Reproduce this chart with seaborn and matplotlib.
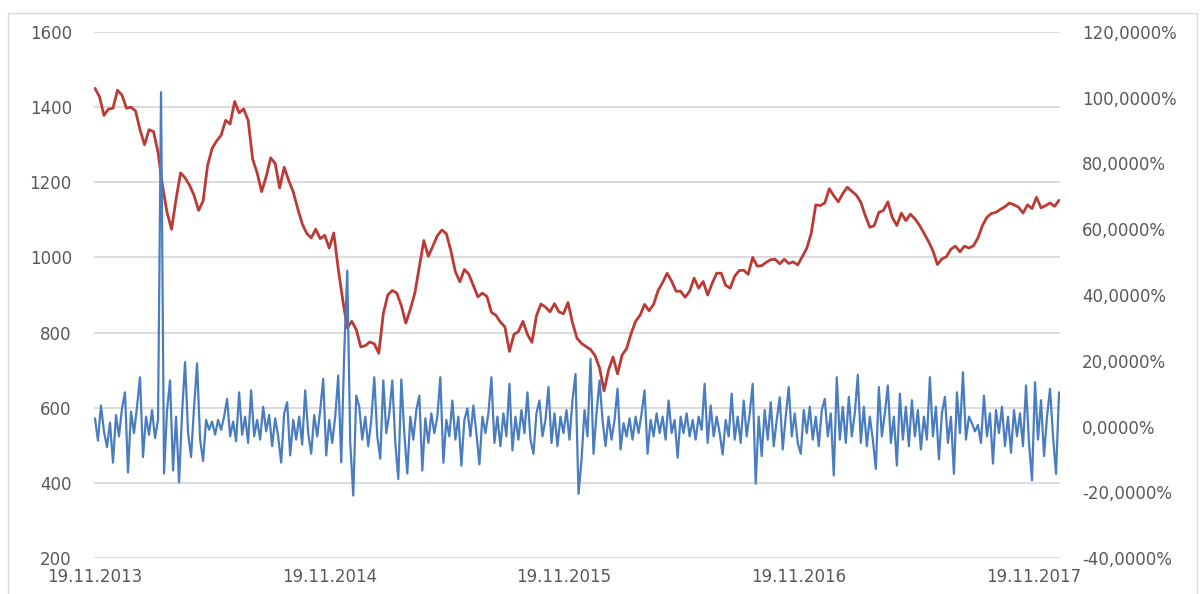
import matplotlib
matplotlib.use("Agg")
import matplotlib.pyplot as plt
import matplotlib.dates as mdates
from matplotlib.ticker import FixedLocator, FuncFormatter
from matplotlib.patches import Rectangle
import pandas as pd
import seaborn as sns

# Observation window
start_date = "2013-11-19"
end_date = "2017-12-29"

# Weekly closing price (left axis)
price = [
    1450, 1428, 1378, 1395, 1397, 1445, 1432, 1397, 1400, 1390,
    1340, 1300, 1340, 1335, 1280, 1190, 1120, 1075, 1155, 1225,
    1212, 1192, 1165, 1125, 1150, 1245, 1290, 1310, 1325, 1365,
    1355, 1415, 1385, 1395, 1365, 1262, 1225, 1175, 1215, 1265,
    1250, 1185, 1240, 1205, 1175, 1130, 1090, 1064, 1052, 1075,
    1050, 1059, 1025, 1065, 970, 887, 812, 830, 808, 762,
    765, 775, 770, 745, 850, 900, 912, 905, 872, 825,
    862, 905, 975, 1045, 1003, 1030, 1058, 1073, 1063, 1018,
    962, 935, 968, 955, 925, 895, 905, 896, 854, 846,
    828, 815, 750, 795, 803, 830, 795, 774, 845, 876,
    868, 855, 877, 855, 850, 880, 826, 785, 771, 763,
    755, 739, 706, 645, 700, 735, 690, 740, 757, 797,
    830, 846, 875, 858, 875, 912, 933, 958, 937, 910,
    910, 894, 910, 945, 918, 936, 900, 931, 958, 958,
    926, 918, 950, 965, 966, 955, 1000, 977, 978, 987,
    994, 995, 983, 995, 984, 988, 980, 1002, 1024, 1065,
    1140, 1138, 1145, 1183, 1164, 1148, 1170, 1187, 1176, 1166,
    1147, 1111, 1080, 1085, 1120, 1125, 1148, 1106, 1085, 1118,
    1098, 1115, 1103, 1086, 1065, 1043, 1018, 981, 996, 1002,
    1022, 1030, 1015, 1030, 1025, 1031, 1052, 1085, 1107, 1117,
    1120, 1128, 1135, 1145, 1140, 1134, 1118, 1140, 1130, 1160,
    1132, 1138, 1145, 1136, 1152,
]

# Period returns in percent (right axis)
returns_pct = [
    2.5, -4.3, 6.4, -1.5, -6.3, 1.2, -11, 3.5, -3, 5.5,
    10.4, -14, 4.5, -2, 6, 15, -9.3, 3, -2.5, 5,
    -3.5, 2, 101.7, -14.3, 5, 14, -13.4, 3, -17, 4,
    19.6, -2, -9.3, 6, 19.2, -4, -10.5, 2, -1, 1.5,
    -2.5, 2, -1, 3, 8.4, -3, 1.5, -4.5, 10.4, -2.5,
    3, -5, 11, -3, 2, -4, 6, -1.5, 3.5, -6,
    2.5, -3, -11, 4, 7.4, -8.8, 2, -4, 3, -5.5,
    11, -2, -8.3, 3.5, -3, 5, 14.5, -8.8, 2, -5,
    3, 15.5, -10.9, 22.6, 47.4, -5, -21, 9.4, 6, -4,
    3, -6, 2, 15, -3, -9.8, 14, -2, 4, 14,
    -5, -16, 14.3, -2, -14.3, 3, -4, 5, 9.4, -13.4,
    2.5, -5, 4, -2, 3, 15, -11, 2, -3, 7.9,
    -4, 3, -11.9, 2, 5.5, -3, 6.4, -2, -11.5, 3,
    -2, 4, 15, -5, 3, -6, 4, -3, 13, -7.3,
    3, -4, 5, -2, 10.4, -4, -8.3, 4, 7.9, -3,
    2, 12, -5, 4, -6, 3, -2, 5, -4, 8,
    16, -20.5, -10.3, 5, -3, 20.6, -8.3, 4, 14, 2,
    -6, 3, -4, 2, 11.5, -7, 1, -3, 2.5, -4,
    3, -2, 4, 11, -8.3, 2, -3, 4, -2, 3,
    -4, 7.9, -2, 2, -9.5, 3, -2, 4, -3, 2,
    -4, 3, -1, 13, -5, 6.4, -3, 3, -2, -8.5,
    2, -3, 10, -4, 3, -5, 7.9, -3, 4, 13,
    -17.4, 3, -9, 5, -4, 7.4, -6, 2, 8.9, -7,
    3, 12, -3, 4, -5, -8.3, 5, -2, 6, -4,
    3, -6, 5, 8.4, -3, 4, -14.9, 15, -4, 6,
    -5, 9, -3, 4, 15.7, -5, 6, -6, 3, -4,
    -12.9, 12, -3, 4, 12.5, -5, 3, -11.9, 10, -4,
    6, -6, 8, -3, 5, -7, 3, -4, 15, -3,
    6, -10, 4, 9, -5, 3, -14.4, 10.4, -2, 16.5,
    -4, 3, 1, -1.5, 0.5, -5, 9.4, -3, 4, -11.3,
    5, -2, 6, -6, 3, -8, 5, -3, 4, -6,
    12.5, -5, -16.4, 13.5, -4, 8, -9, 3, 11.5, -3,
    -14.4, 10.4,
]

tick_dates = ["2013-11-19", "2014-11-19", "2015-11-19", "2016-11-19", "2017-11-19"]
price_ticks = [200, 400, 600, 800, 1000, 1200, 1400, 1600]
return_ticks = [-40, -20, 0, 20, 40, 60, 80, 100, 120]

price_df = pd.DataFrame({
    "date": pd.date_range(start_date, end_date, periods=len(price)),
    "price": price,
})
returns_df = pd.DataFrame({
    "date": pd.date_range(start_date, end_date, periods=len(returns_pct)),
    "ret": returns_pct,
})

sns.set_theme(style="white")
plt.rcParams["font.family"] = ["DejaVu Sans"]

TEXT = "#595959"
GRID = "#D9D9D9"
RED = "#BC3A35"
BLUE = "#4A7DBF"

W, H = 1200, 594
fig = plt.figure(figsize=(W / 100, H / 100), dpi=100)
fig.patch.set_facecolor("white")

left, right, top, bottom = 94, 1060, 32, 558
ax = fig.add_axes([left / W, 1 - bottom / H, (right - left) / W, (bottom - top) / H])
ax2 = ax.twinx()

sns.lineplot(data=price_df, x="date", y="price", ax=ax, color=RED, linewidth=2.0)
sns.lineplot(data=returns_df, x="date", y="ret", ax=ax2, color=BLUE, linewidth=1.6)

x0 = pd.Timestamp(start_date) - pd.Timedelta(days=1.5)
x1 = pd.Timestamp(end_date) + pd.Timedelta(days=1.5)
ax.set_xlim(x0, x1)
ax.set_ylim(200, 1600)
ax2.set_ylim(-40, 120)

ax.yaxis.set_major_locator(FixedLocator(price_ticks))
ax.yaxis.set_major_formatter(FuncFormatter(lambda v, p: f"{v:.0f}"))
ax2.yaxis.set_major_locator(FixedLocator(return_ticks))
ax2.yaxis.set_major_formatter(
    FuncFormatter(lambda v, p: f"{v:.4f}".replace(".", ",") + "%"))

ax.xaxis.set_major_locator(FixedLocator(mdates.date2num(pd.to_datetime(tick_dates))))
ax.xaxis.set_major_formatter(mdates.DateFormatter("%d.%m.%Y"))

ax.grid(axis="y", color=GRID, linewidth=1.3)
ax.grid(axis="x", visible=False)
ax2.grid(False)
ax.set_axisbelow(True)

for a in (ax, ax2):
    for s in a.spines.values():
        s.set_visible(False)
    a.set_xlabel("")
    a.set_ylabel("")

ax.tick_params(axis="y", length=0, pad=16, labelsize=12, labelcolor=TEXT)
ax.tick_params(axis="x", length=0, pad=7, labelsize=12, labelcolor=TEXT)
ax2.tick_params(axis="y", length=0, pad=16, labelsize=12, labelcolor=TEXT)

# Chart-area border
fig.add_artist(Rectangle((8 / W, -0.05), (1197 - 8) / W, 1 - 13 / H + 0.05,
                         transform=fig.transFigure, fill=False,
                         edgecolor=GRID, linewidth=1.0))

fig.savefig("out.png", dpi=100, facecolor="white")
